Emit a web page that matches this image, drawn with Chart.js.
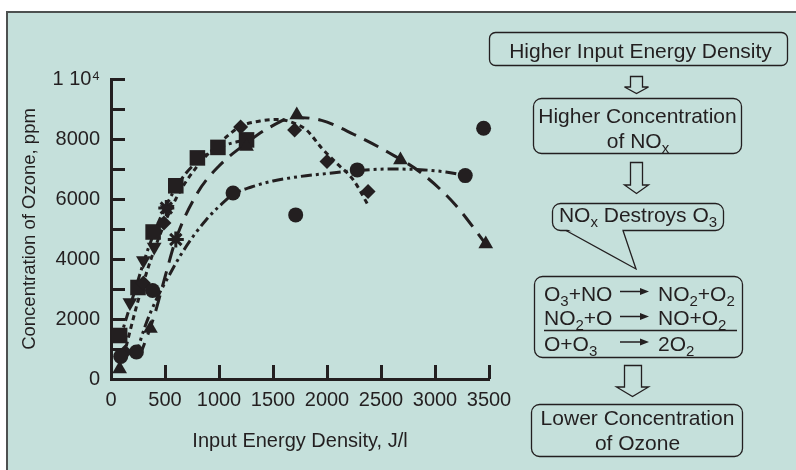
<!DOCTYPE html>
<html lang="en">
<head>
<meta charset="UTF-8">
<title>Ozone concentration vs input energy density</title>
<script src="https://cdn.jsdelivr.net/npm/chart.js"></script>
<style>
  html, body { margin: 0; padding: 0; background: #fff; }
  #panel { position: relative; width: 796px; height: 470px; overflow: hidden; }
  #bg { position: absolute; left: 6px; top: 11px; right: 0; bottom: 0; background: #c5e0db;
        border-left: 2px solid #4d5150; border-top: 2px solid #4d5150; }
  #chart, #flow { position: absolute; left: 0; top: 0; }
  #flow text { font-family: 'Liberation Sans', Arial, sans-serif; font-size: 21px; fill: #231f20; }
</style>
</head>
<body>
<div id="panel">
  <div id="bg"></div>
  <canvas id="chart" width="796" height="470"></canvas>

  <!-- flow diagram on the right -->
  <svg id="flow" width="796" height="470" viewBox="0 0 796 470">
    <g fill="none" stroke="#231f20" stroke-width="1.3">
      <rect x="489.5" y="32.5" width="298" height="33" rx="6"/>
      <path d="M630.5,76.5 H642.5 V87 H648.5 L636.5,93.5 L624.5,87 H630.5 Z"/>
      <rect x="533.5" y="98.5" width="208" height="55" rx="8"/>
      <path d="M630.5,162.5 H642.5 V185 H648.5 L636.5,193.5 L624.5,185 H630.5 Z"/>
      <rect x="552.5" y="203.5" width="171" height="27" rx="8"/>
      <rect x="534.5" y="276.5" width="208" height="81" rx="8"/>
      <line x1="544" y1="330.5" x2="737" y2="330.5"/>
      <path d="M624.5,365.5 H641.5 V387 H648.5 L632.5,396.5 L616.5,387 H624.5 Z"/>
      <rect x="531.5" y="404.5" width="211" height="52" rx="8"/>
    </g>
    <polygon points="567,229 622,229 636,268" fill="#c5e0db"/>
    <polyline points="566,230.5 636,269 623,230.5" fill="none" stroke="#231f20" stroke-width="1.3"/>

    <!-- reaction arrows -->
    <g stroke="#231f20" stroke-width="1.5">
      <line x1="620" y1="291.5" x2="642" y2="291.5"/>
      <line x1="620" y1="316.5" x2="642" y2="316.5"/>
      <line x1="620" y1="342" x2="642" y2="342"/>
    </g>
    <g fill="#231f20">
      <polygon points="640,288 649,291.5 640,295"/>
      <polygon points="640,313 649,316.5 640,320"/>
      <polygon points="640,338.5 649,342 640,345.5"/>
    </g>

    <text x="640.5" y="58" text-anchor="middle" font-size="22">Higher Input Energy Density</text>
    <text x="637.5" y="123" text-anchor="middle">Higher Concentration</text>
    <text x="638" y="148" text-anchor="middle">of NO<tspan font-size="15" dy="5">x</tspan></text>
    <text x="638" y="222" text-anchor="middle">NO<tspan font-size="15" dy="5">x</tspan><tspan dy="-5"> Destroys O</tspan><tspan font-size="15" dy="5">3</tspan></text>

    <text x="544" y="300.5">O<tspan font-size="15" dy="5">3</tspan><tspan dy="-5">+NO</tspan></text>
    <text x="658" y="300.5">NO<tspan font-size="15" dy="5">2</tspan><tspan dy="-5">+O</tspan><tspan font-size="15" dy="5">2</tspan></text>
    <text x="544" y="325">NO<tspan font-size="15" dy="5">2</tspan><tspan dy="-5">+O</tspan></text>
    <text x="658" y="325">NO+O<tspan font-size="15" dy="5">2</tspan></text>
    <text x="544" y="350.5">O+O<tspan font-size="15" dy="5">3</tspan></text>
    <text x="658" y="350.5">2O<tspan font-size="15" dy="5">2</tspan></text>

    <text x="637.5" y="425" text-anchor="middle">Lower Concentration</text>
    <text x="637.5" y="449.5" text-anchor="middle">of Ozone</text>
  </svg>
</div>

<script>
  // measured points, input energy density (J/l) vs ozone (ppm)
  const circleX = [90, 235, 385, 1130, 1710, 2280, 3280, 3450];
  const circleY = [750, 900, 2950, 6200, 5470, 6970, 6780, 8360];

  const triX = [80, 365, 1255, 1720, 2680, 3470];
  const triY = [330, 1680, 7750, 8800, 7300, 4500];

  const diamondX = [130, 300, 490, 1200, 1700, 2000, 2380];
  const diamondY = [900, 3200, 5200, 8400, 8300, 7250, 6250];

  const squareX = [80, 250, 390, 600, 800, 990, 1255];
  const squareY = [1450, 3050, 4900, 6440, 7370, 7720, 7970];

  const downTriX = [110, 175, 300, 400, 520];
  const downTriY = [800, 2550, 3950, 4400, 5650];

  const starX = [512, 600];
  const starY = [5700, 4650];

  // fitted trend curves
  const circleFitX = [230, 320, 420, 530, 640, 760, 880, 1000, 1130, 1300, 1500, 1750, 2000, 2280, 2600, 2900, 3100, 3280];
  const circleFitY = [800, 1800, 2650, 3400, 4100, 4750, 5300, 5750, 6150, 6400, 6600, 6750, 6850, 6950, 7000, 6970, 6900, 6780];

  const triFitX = [260, 400, 500, 600, 800, 1000, 1250, 1450, 1700, 1950, 2250, 2570, 2880, 3190, 3480];
  const triFitY = [700, 2100, 3400, 4650, 6200, 7100, 7850, 8350, 8720, 8620, 8150, 7550, 6850, 5800, 4450];

  const diamondFitX = [120, 250, 400, 600, 800, 1000, 1200, 1380, 1550, 1700, 1810, 1950, 2090, 2245, 2380];
  const diamondFitY = [800, 2600, 4300, 6000, 7100, 7850, 8420, 8600, 8650, 8520, 8300, 7700, 7190, 6630, 5800];

  const squareFitX = [80, 200, 350, 500, 650, 800, 1000, 1250];
  const squareFitY = [1300, 2700, 4400, 5700, 6650, 7250, 7720, 7980];

  const ink = '#231f20';
  const pts = (xs, ys) => xs.map((x, i) => ({ x: x, y: ys[i] }));

  Chart.defaults.font.family = "'Liberation Sans', Arial, sans-serif";
  Chart.defaults.font.size = 20;
  Chart.defaults.color = ink;

  function marker(xs, ys, style, r, rot) {
    return {
      data: pts(xs, ys),
      pointStyle: style,
      pointRadius: r,
      rotation: rot || 0,
      backgroundColor: ink,
      borderColor: ink,
      borderWidth: style === 'star' ? 3 : 0,
      showLine: false,
      clip: false,
      order: 1
    };
  }

  function fit(xs, ys, dash) {
    return {
      data: pts(xs, ys),
      showLine: true,
      pointRadius: 0,
      borderColor: ink,
      borderWidth: 3,
      borderDash: dash,
      cubicInterpolationMode: 'monotone',
      clip: false,
      order: 2
    };
  }

  // tick marks point into the plot
  const inwardTicks = {
    id: 'inwardTicks',
    beforeDatasetsDraw(chart) {
      const { ctx, chartArea: a, scales: { x, y } } = chart;
      ctx.save();
      ctx.strokeStyle = ink;
      ctx.lineWidth = 3;
      ctx.beginPath();
      y.ticks.forEach(t => {
        if (t.value === 0) return;
        const py = Math.round(y.getPixelForValue(t.value)) + 0.5;
        ctx.moveTo(a.left, py);
        ctx.lineTo(a.left + 14, py);
      });
      x.ticks.forEach(t => {
        if (t.value === 0) return;
        const px = Math.round(x.getPixelForValue(t.value)) + 0.5;
        ctx.moveTo(px, a.bottom);
        ctx.lineTo(px, a.bottom - 14);
      });
      ctx.stroke();
      ctx.restore();
    }
  };

  new Chart(document.getElementById('chart'), {
    type: 'scatter',
    data: {
      datasets: [
        marker(circleX, circleY, 'circle', 7.5),
        marker(triX, triY, 'triangle', 8.5),
        marker(diamondX, diamondY, 'rectRot', 7.5),
        marker(squareX, squareY, 'rect', 11),
        marker(downTriX, downTriY, 'triangle', 8.5, 180),
        marker(starX, starY, 'star', 8),
        fit(circleFitX, circleFitY, [11, 4, 3, 4, 3, 4]),
        fit(triFitX, triFitY, [16, 9]),
        fit(diamondFitX, diamondFitY, [5, 4]),
        fit(squareFitX, squareFitY, [9, 4, 3, 4])
      ]
    },
    options: {
      responsive: false,
      animation: false,
      layout: { padding: { left: 0, right: 307, top: 79, bottom: 0 } },
      plugins: { legend: { display: false }, tooltip: { enabled: false } },
      scales: {
        x: {
          type: 'linear',
          min: 0,
          max: 3500,
          afterFit(s) { s.height = 91; },
          grid: { display: false },
          border: { display: true, width: 3, color: ink },
          ticks: { stepSize: 500, autoSkip: false, maxRotation: 0, padding: 1, callback: v => String(v) },
          title: { display: true, text: 'Input Energy Density, J/l', padding: { top: 0, bottom: 17 } }
        },
        y: {
          min: 0,
          max: 10000,
          afterFit(s) { s.width = 111; },
          grid: { display: false },
          border: { display: true, width: 3, color: ink },
          ticks: {
            stepSize: 1000,
            autoSkip: false,
            padding: 3,
            callback: v => v === 10000 ? '1 10\u2074' : (v % 2000 === 0 ? String(v) : '')
          },
          title: {
            display: true,
            text: 'Concentration of Ozone, ppm',
            font: { size: 18.5 },
            padding: { top: 19, bottom: 0 }
          }
        }
      }
    },
    plugins: [inwardTicks]
  });
</script>
</body>
</html>
